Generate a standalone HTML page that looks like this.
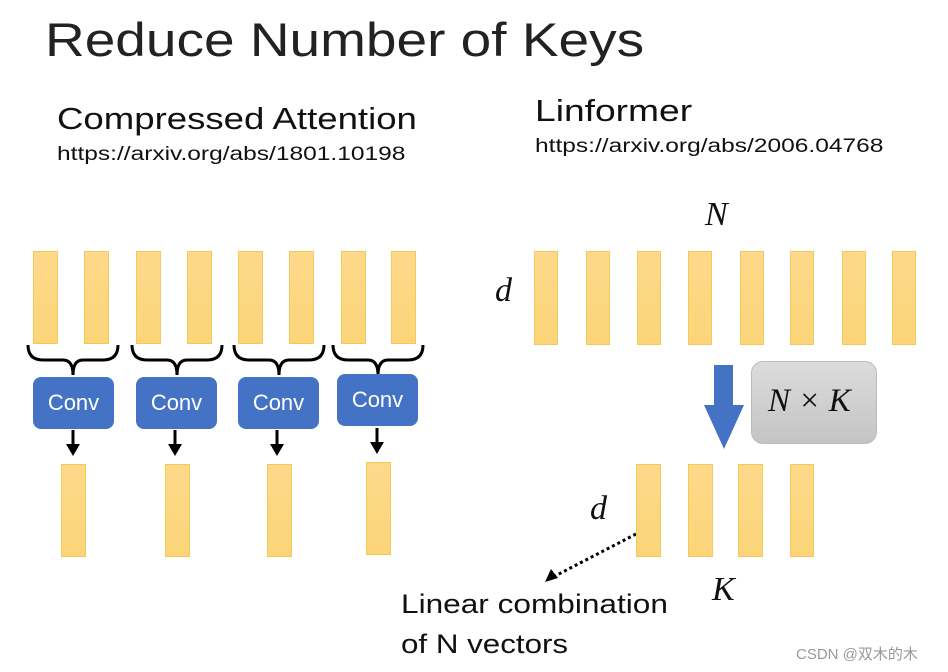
<!DOCTYPE html>
<html><head><style>
body{margin:0;width:948px;height:672px;background:#fff;position:relative;overflow:hidden;font-family:"Liberation Sans","DejaVu Sans",sans-serif}
.t{position:absolute;white-space:nowrap;color:#111;transform-origin:0 0}
.b{position:absolute;background:linear-gradient(#fdd98a,#fcd579);border:1px solid #f5c85a;box-sizing:border-box}
.c{position:absolute;background:#4472c4;border-radius:8px;color:#fff;font-size:22px;text-align:center;line-height:52px;height:52px;width:81px}
.m{font-family:"Liberation Serif","DejaVu Serif",serif;font-style:italic}
</style></head><body>
<div class="t" style="left:45px;top:12px;font-size:47px;color:#222;transform:scaleX(1.17)">Reduce Number of Keys</div>
<div class="t" style="left:57px;top:101px;font-size:31px;transform:scaleX(1.18)">Compressed Attention</div>
<div class="t" style="left:57px;top:144px;font-size:19px;transform:scaleX(1.29)">https://arxiv.org/abs/1801.10198</div>
<div class="t" style="left:535px;top:93px;font-size:31px;transform:scaleX(1.2)">Linformer</div>
<div class="t" style="left:535px;top:136px;font-size:19px;transform:scaleX(1.29)">https://arxiv.org/abs/2006.04768</div>

<div class="b" style="left:33px;top:251px;width:25px;height:93px"></div>
<div class="b" style="left:84px;top:251px;width:25px;height:93px"></div>
<div class="b" style="left:136px;top:251px;width:25px;height:93px"></div>
<div class="b" style="left:187px;top:251px;width:25px;height:93px"></div>
<div class="b" style="left:238px;top:251px;width:25px;height:93px"></div>
<div class="b" style="left:289px;top:251px;width:25px;height:93px"></div>
<div class="b" style="left:341px;top:251px;width:25px;height:93px"></div>
<div class="b" style="left:391px;top:251px;width:25px;height:93px"></div>

<svg style="position:absolute;left:0;top:0" width="948" height="672">
<g fill="none" stroke="#000" stroke-width="3">
<path d="M28,345 q0,15 15,15 h20 q10,0 10,15 q0,-15 10,-15 h20 q15,0 15,-15"/>
<path d="M132,345 q0,15 15,15 h20 q10,0 10,15 q0,-15 10,-15 h20 q15,0 15,-15"/>
<path d="M234,345 q0,15 15,15 h20 q10,0 10,15 q0,-15 10,-15 h20 q15,0 15,-15"/>
<path d="M333,345 q0,15 15,15 h20 q10,0 10,15 q0,-15 10,-15 h20 q15,0 15,-15"/>
<path d="M73,430 v16 M175,430 v16 M277,430 v16 M377,428 v16"/>
<path d="M636,534 L555,576" stroke-dasharray="3,3"/>
</g>
<g fill="#000">
<path d="M66,444 h14 l-7,12z M168,444 h14 l-7,12z M270,444 h14 l-7,12z M370,442 h14 l-7,12z"/>
<path d="M545,582 l6,-13 l7,9z"/>
</g>
<path d="M714,365 h19 v40 h11 l-20,44 l-20,-44 h10z" fill="#4472c4"/>
<circle cx="696" cy="536" r="8" fill="#ff8a80" opacity="0.5"/>
<circle cx="696" cy="536" r="3.5" fill="none" stroke="#e00" stroke-width="2"/>
</svg>

<div class="c" style="left:33px;top:377px">Conv</div>
<div class="c" style="left:136px;top:377px">Conv</div>
<div class="c" style="left:238px;top:377px">Conv</div>
<div class="c" style="left:337px;top:374px">Conv</div>

<div class="b" style="left:61px;top:464px;width:25px;height:93px"></div>
<div class="b" style="left:165px;top:464px;width:25px;height:93px"></div>
<div class="b" style="left:267px;top:464px;width:25px;height:93px"></div>
<div class="b" style="left:366px;top:462px;width:25px;height:93px"></div>

<div class="b" style="left:534px;top:251px;width:24px;height:94px"></div>
<div class="b" style="left:586px;top:251px;width:24px;height:94px"></div>
<div class="b" style="left:637px;top:251px;width:24px;height:94px"></div>
<div class="b" style="left:688px;top:251px;width:24px;height:94px"></div>
<div class="b" style="left:740px;top:251px;width:24px;height:94px"></div>
<div class="b" style="left:790px;top:251px;width:24px;height:94px"></div>
<div class="b" style="left:842px;top:251px;width:24px;height:94px"></div>
<div class="b" style="left:892px;top:251px;width:24px;height:94px"></div>

<div class="b" style="left:636px;top:464px;width:25px;height:93px"></div>
<div class="b" style="left:688px;top:464px;width:25px;height:93px"></div>
<div class="b" style="left:738px;top:464px;width:25px;height:93px"></div>
<div class="b" style="left:790px;top:464px;width:24px;height:93px"></div>

<div style="position:absolute;left:751px;top:361px;width:126px;height:83px;border-radius:12px;background:linear-gradient(#dcdcdc,#c4c4c4);border:1px solid #bbb;box-sizing:border-box"></div>
<div class="t m" style="left:768px;top:383px;font-size:33px">N × K</div>

<div class="t m" style="left:705px;top:196px;font-size:34px">N</div>
<div class="t m" style="left:495px;top:272px;font-size:34px">d</div>
<div class="t m" style="left:590px;top:490px;font-size:34px">d</div>
<div class="t m" style="left:712px;top:571px;font-size:34px">K</div>
<div class="t" style="left:401px;top:589px;font-size:27px;transform:scaleX(1.17)">Linear combination</div>
<div class="t" style="left:401px;top:629px;font-size:27px;transform:scaleX(1.16)">of N vectors</div>
<div class="t" style="left:796px;top:643px;font-size:15px;color:#999;font-family:'Liberation Sans','Noto Sans CJK SC',sans-serif">CSDN @双木的木</div>
</body></html>
